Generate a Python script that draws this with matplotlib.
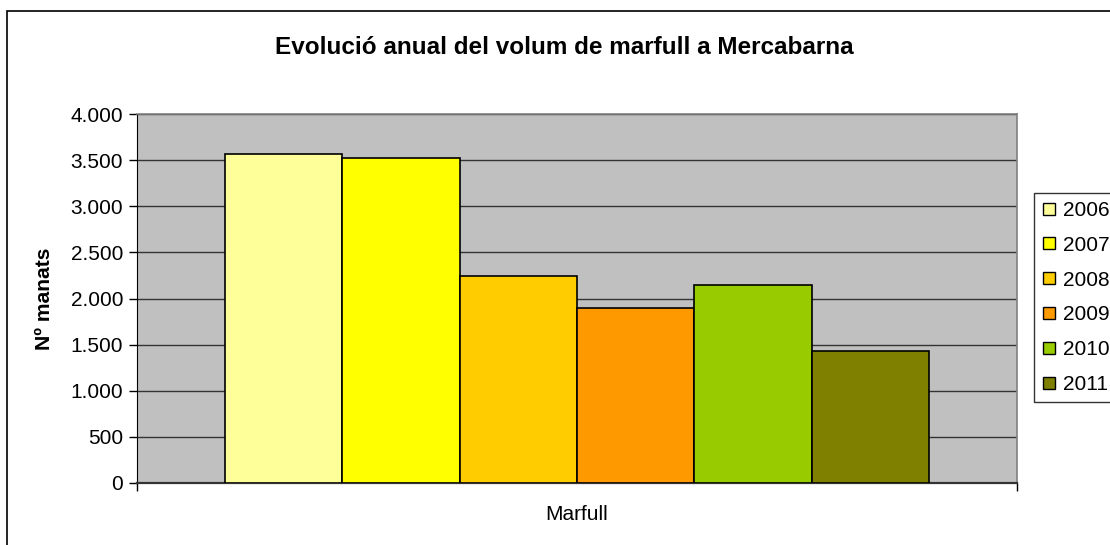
import matplotlib
matplotlib.use("Agg")
import matplotlib.pyplot as plt
from matplotlib.patches import Rectangle
from matplotlib.lines import Line2D

# data
years = ["2006", "2007", "2008", "2009", "2010", "2011"]
volumes = [3565, 3525, 2245, 1898, 2150, 1432]
colors = ["#FFFF99", "#FFFF00", "#FFCC00", "#FF9900", "#99CC00", "#808000"]
category = "Marfull"
y_ticks = [0, 500, 1000, 1500, 2000, 2500, 3000, 3500, 4000]
y_tick_labels = ["0", "500", "1.000", "1.500", "2.000", "2.500", "3.000", "3.500", "4.000"]

plt.rcParams["font.family"] = ["Liberation Sans", "DejaVu Sans"]

W, H = 1110, 545
fig = plt.figure(figsize=(W / 100, H / 100), dpi=100)

# outer chart frame (runs off the right and bottom edge)
fig.patches.append(Rectangle((6.5 / W, -0.05), 1.1, 1 - 10.5 / H + 0.05,
                             transform=fig.transFigure, fill=False,
                             edgecolor="black", linewidth=1.2))

# plot area in pixels
left, top, right, bottom = 137, 114, 1017, 483
ax = fig.add_axes([left / W, 1 - bottom / H, (right - left) / W, (bottom - top) / H])
ax.set_facecolor("#C0C0C0")

n = len(years)
group = 0.8
bw = group / n
for i, (yr, v, c) in enumerate(zip(years, volumes, colors)):
    x = -group / 2 + bw * (i + 0.5)
    ax.bar(x, v, width=bw, color=c, edgecolor="black", linewidth=1.2, zorder=3)

ax.set_xlim(-0.5, 0.5)
ax.set_ylim(0, 4000)
ax.set_yticks(y_ticks)
ax.set_yticklabels(y_tick_labels, fontsize=15)
ax.yaxis.grid(True, color="#333333", linewidth=1.0, zorder=0)
ax.set_axisbelow(True)

# category axis: ticks at the group edges, label in the middle
ax.set_xticks([-0.5, 0.5])
ax.set_xticklabels(["", ""])
ax.set_xticks([0], minor=True)
ax.set_xticklabels([category], minor=True, fontsize=15)
ax.tick_params(axis="x", which="minor", length=0, pad=16)
ax.tick_params(axis="x", which="major", length=6, width=1, color="black")
ax.tick_params(axis="y", length=6, width=1, color="black", pad=4)

for s in ["top", "right"]:
    ax.spines[s].set_color("#808080")
    ax.spines[s].set_linewidth(1.2)
ax.spines["left"].set_color("black")
ax.spines["bottom"].set_color("#333333")
ax.spines["bottom"].set_linewidth(1.6)

ax.set_ylabel("Nº manats", fontsize=15.2, fontweight="bold", labelpad=12)

fig.text(564 / W, 1 - 47 / H, "Evolució anual del volum de marfull a Mercabarna",
         ha="center", va="center", fontsize=17.5, fontweight="bold")

handles = [Line2D([], [], linestyle="none", marker="s", markersize=8,
                  markerfacecolor=c, markeredgecolor="black", markeredgewidth=1)
           for c in colors]
leg = fig.legend(handles, years, loc="upper left",
                 bbox_to_anchor=(1034 / W, 1 - 193 / H), fontsize=15,
                 frameon=True, fancybox=False, handlelength=0.7,
                 handletextpad=0.3, labelspacing=0.76, borderpad=0.38,
                 borderaxespad=0)
leg.get_frame().set_edgecolor("black")
leg.get_frame().set_linewidth(1.0)

fig.savefig("out.png", dpi=100)
